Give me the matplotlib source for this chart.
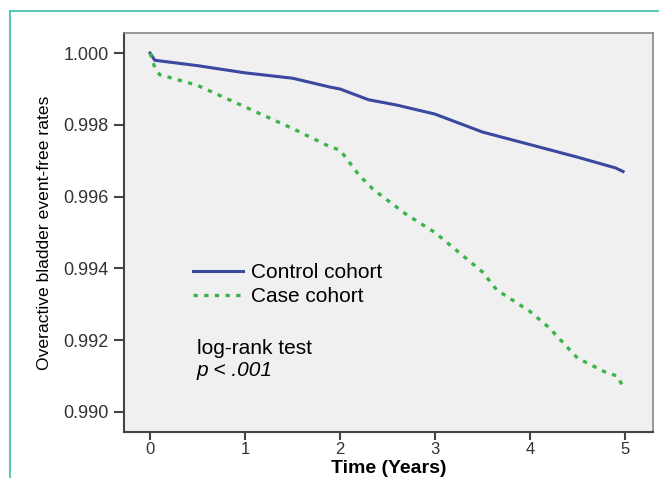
import matplotlib.pyplot as plt
from matplotlib.lines import Line2D

# ── Data ──────────────────────────────────────────────────────────────────────
control_t = [0.0, 0.05, 0.5, 1.0, 1.5, 1.9, 2.0, 2.3, 2.6, 3.0, 3.5, 4.0, 4.5, 4.9, 4.98]
control_s = [1.0000, 0.9998, 0.99965, 0.99945, 0.9993, 0.99905, 0.9990, 0.9987,
             0.99855, 0.9983, 0.9978, 0.99745, 0.9971, 0.9968, 0.99670]

case_t = [0.0, 0.05, 0.1, 0.5, 1.0, 1.5, 1.9, 2.0, 2.2, 2.35, 2.7, 3.0, 3.5,
          3.65, 4.0, 4.2, 4.5, 4.8, 4.92, 4.98]
case_s = [1.0000, 0.9996, 0.9994, 0.9991, 0.9985, 0.9979, 0.99738, 0.9973, 0.9966,
          0.9962, 0.9955, 0.9950, 0.9939, 0.9934, 0.9928, 0.99235, 0.9915, 0.9911,
          0.9910, 0.9907]

x_ticks = [0, 1, 2, 3, 4, 5]
y_ticks = [0.990, 0.992, 0.994, 0.996, 0.998, 1.000]

plt.rcParams["font.family"] = ["Liberation Sans", "DejaVu Sans"]

fig = plt.figure(figsize=(6.59, 4.78), dpi=100)
ax = fig.add_axes([124 / 659, 1 - 432 / 478, (653 - 124) / 659, (432 - 33) / 478])
ax.set_facecolor("#f0f0f0")

ax.plot(control_t, control_s, color="#3a48a0", linewidth=2.2, label="Control cohort")
ax.plot(case_t, case_s, color="#3cb44b", linewidth=2.4, linestyle=(0, (1.3, 1.9)),
        label="Case cohort")

ax.set_xlim(-0.274, 5.295)
ax.set_ylim(0.98944, 1.00056)
ax.set_xticks(x_ticks)
ax.set_yticks(y_ticks)
ax.set_yticklabels([f"{v:.3f}" for v in y_ticks])
ax.tick_params(direction="out", length=7, width=1.5, color="#444444",
               labelsize=13, labelcolor="#333333", pad=4)
ax.tick_params(axis="x", length=6, pad=1.5, labelsize=12)

for side in ["left", "bottom"]:
    ax.spines[side].set_color("#444444")
    ax.spines[side].set_linewidth(1.5)
for side in ["top", "right"]:
    ax.spines[side].set_color("#888888")
    ax.spines[side].set_linewidth(1.2)

ax.set_xlabel("Time (Years)", fontsize=14, fontweight="bold", va="baseline")
ax.xaxis.set_label_coords(0.5, -(473 - 432) / 399)
ax.set_ylabel("Overactive bladder event-free rates", fontsize=12.6, labelpad=8)

ax.legend(loc="upper left", bbox_to_anchor=(0.095, 0.47), frameon=False, fontsize=15,
          handlelength=2.4, handletextpad=0.4, labelspacing=0.22)

ax.text(0.138, 0.21, "log-rank test", transform=ax.transAxes, fontsize=15, va="center")
ax.text(0.138, 0.155, "p < .001", transform=ax.transAxes, fontsize=15, va="center",
        style="italic")

# teal frame around the figure panel
fig.add_artist(Line2D([10 / 659, 10 / 659], [0, 1 - 11 / 478], color="#3cbfa8",
                      linewidth=1.2, transform=fig.transFigure))
fig.add_artist(Line2D([10 / 659, 1], [1 - 11 / 478, 1 - 11 / 478], color="#3cbfa8",
                      linewidth=1.2, transform=fig.transFigure))

fig.savefig("out.png", dpi=100)
